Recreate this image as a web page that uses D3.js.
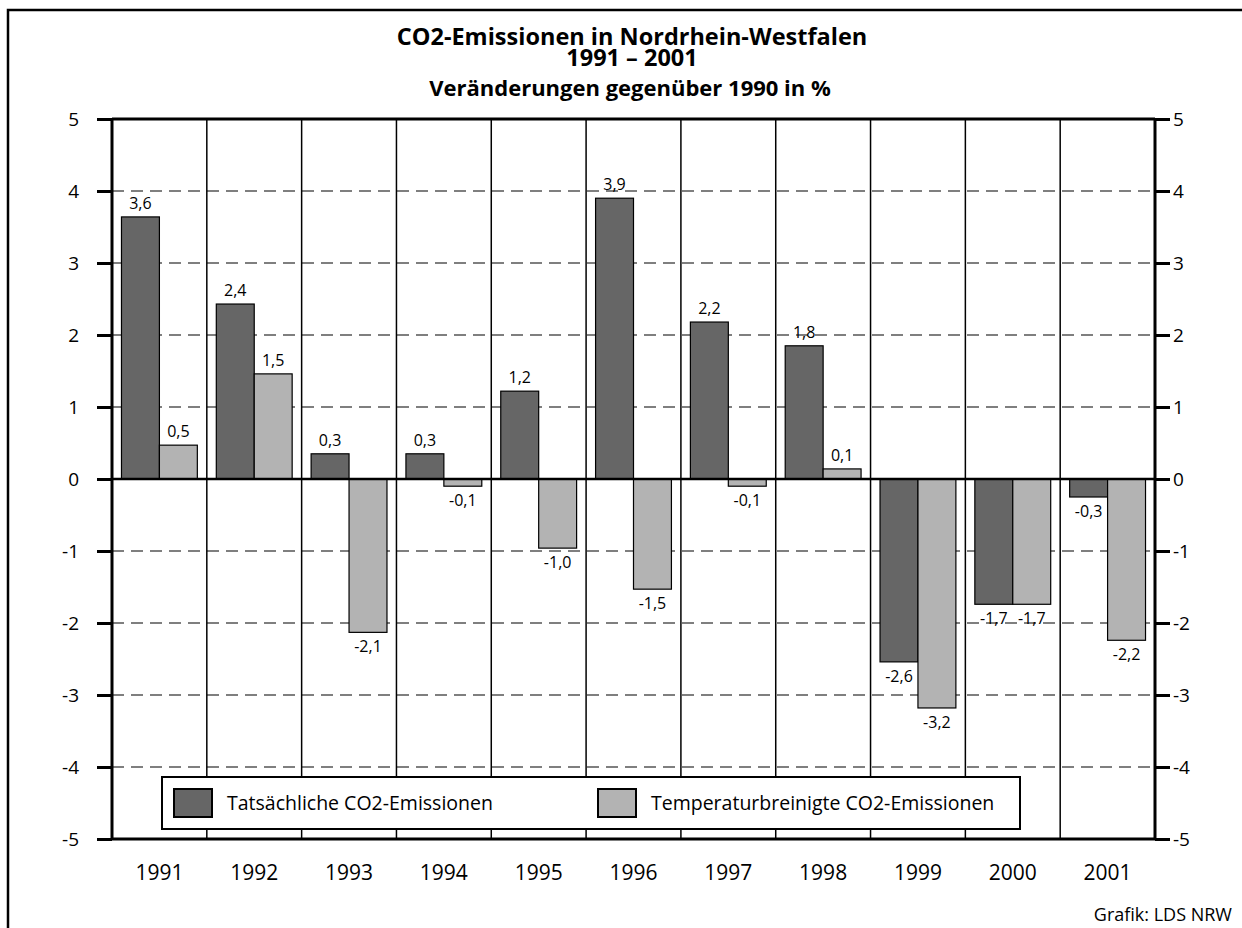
<!DOCTYPE html>
<html>
<head>
<meta charset="utf-8">
<script src="https://cdn.jsdelivr.net/npm/d3@7"></script>
<style>
  html, body { margin: 0; padding: 0; background: #fff; }
  svg { display: block; }
  text { font-family: "Open Sans", "Noto Sans", sans-serif; fill: #000; }
</style>
</head>
<body>
<svg id="chart" width="1242" height="928"></svg>
<script>
// ---- data ----
const years = ["1991","1992","1993","1994","1995","1996","1997","1998","1999","2000","2001"];
const seriesNames = ["Tatsächliche CO2-Emissionen", "Temperaturbreinigte CO2-Emissionen"];
const actual =      [3.64, 2.43, 0.35, 0.35, 1.22, 3.90, 2.18, 1.85, -2.54, -1.74, -0.25];
const adjusted =    [0.47, 1.46, -2.13, -0.10, -0.96, -1.53, -0.10, 0.14, -3.18, -1.74, -2.24];
const actualLabels =   ["3,6","2,4","0,3","0,3","1,2","3,9","2,2","1,8","-2,6","-1,7","-0,3"];
const adjustedLabels = ["0,5","1,5","-2,1","-0,1","-1,0","-1,5","-0,1","0,1","-3,2","-1,7","-2,2"];
const yTicks = [-5,-4,-3,-2,-1,0,1,2,3,4,5];
const titleLines = ["CO2-Emissionen in Nordrhein-Westfalen", "1991 – 2001"];
const subtitle = "Veränderungen gegenüber 1990 in %";
const source = "Grafik: LDS NRW";
const colors = ["#666666", "#b3b3b3"];

(function () {
// ---- layout ----
const svg = d3.select("#chart");
const pL = 112, pR = 1155, pT = 119, pB = 839;

const x = d3.scaleBand().domain(years).range([pL, pR]).padding(0);
const xi = d3.scaleBand().domain([0,1]).range([0, x.bandwidth()]).paddingInner(0).paddingOuter(0.25);
const y = d3.scaleLinear().domain([-5, 5]).range([pB, pT]);

// outer frame
svg.append("rect").attr("x", 8).attr("y", 10).attr("width", 1400).attr("height", 1000)
  .attr("fill", "none").attr("stroke", "#000").attr("stroke-width", 2.5);

// titles (one text element, two lines)
const tt = svg.append("text").attr("text-anchor", "middle")
  .attr("font-size", 23.5).attr("font-weight", "bold");
tt.append("tspan").attr("x", 632).attr("y", 45).text(titleLines[0]);
tt.append("tspan").attr("x", 632).attr("y", 66).text(titleLines[1]);
svg.append("text").attr("x", 630).attr("y", 96).attr("text-anchor", "middle")
  .attr("font-size", 22).attr("font-weight", "bold").text(subtitle);

// dashed horizontal grid
svg.append("g").selectAll("line").data(yTicks.filter(t => t !== 0 && t !== 5 && t !== -5)).join("line")
  .attr("x1", pL).attr("x2", pR)
  .attr("y1", d => y(d)).attr("y2", d => y(d))
  .attr("stroke", "#000").attr("stroke-width", 1.2).attr("stroke-dasharray", "12,7");

// vertical category separators
svg.append("g").selectAll("line").data(years.slice(1)).join("line")
  .attr("x1", d => x(d)).attr("x2", d => x(d))
  .attr("y1", pT).attr("y2", pB)
  .attr("stroke", "#000").attr("stroke-width", 1.5);

// bars
const rows = years.map((yr, i) => [
  {year: yr, s: 0, v: actual[i], label: actualLabels[i]},
  {year: yr, s: 1, v: adjusted[i], label: adjustedLabels[i]}
]).flat();

svg.append("g").selectAll("rect").data(rows).join("rect")
  .attr("x", d => x(d.year) + xi(d.s))
  .attr("width", xi.bandwidth())
  .attr("y", d => y(Math.max(0, d.v)))
  .attr("height", d => Math.abs(y(d.v) - y(0)))
  .attr("fill", d => colors[d.s])
  .attr("stroke", "#000").attr("stroke-width", 1.2);

// data labels
svg.append("g").selectAll("text").data(rows).join("text")
  .attr("x", d => x(d.year) + xi(d.s) + xi.bandwidth() / 2)
  .attr("y", d => d.v >= 0 ? y(d.v) - 8 : y(d.v) + 20)
  .attr("text-anchor", "middle").attr("font-size", 16)
  .text(d => d.label);

// frame lines: top, bottom, zero
[5, -5, 0].forEach(v => {
  svg.append("line").attr("x1", pL).attr("x2", pR)
    .attr("y1", y(v)).attr("y2", y(v))
    .attr("stroke", "#000").attr("stroke-width", v === 0 ? 2.5 : 3);
});

// axes
const fmt = d => String(d);
const axL = svg.append("g").attr("transform", `translate(${pL},0)`)
  .call(d3.axisLeft(y).tickValues(yTicks).tickFormat(fmt).tickSize(15).tickPadding(18));
const axR = svg.append("g").attr("transform", `translate(${pR},0)`)
  .call(d3.axisRight(y).tickValues(yTicks).tickFormat(fmt).tickSize(15).tickPadding(3));
[axL, axR].forEach(ax => {
  ax.select(".domain").attr("stroke", "#000").attr("stroke-width", 3).attr("d", `M0,${pT}V${pB}`);
  ax.selectAll(".tick line").attr("stroke", "#000").attr("stroke-width", 3);
  ax.selectAll(".tick text").attr("font-size", 19)
    .attr("font-family", "'Open Sans', 'Noto Sans', sans-serif").attr("fill", "#000");
});

// category labels
svg.append("g").selectAll("text").data(years).join("text")
  .attr("x", d => x(d) + x.bandwidth() / 2)
  .attr("y", 880)
  .attr("text-anchor", "middle").attr("font-size", 21)
  .text(d => d);

// legend
const lg = svg.append("g");
lg.append("rect").attr("x", 162).attr("y", 777).attr("width", 858).attr("height", 52)
  .attr("fill", "#fff").attr("stroke", "#000").attr("stroke-width", 2);
const legX = [174, 598];
seriesNames.forEach((name, i) => {
  lg.append("rect").attr("x", legX[i]).attr("y", 789).attr("width", 38).attr("height", 28)
    .attr("fill", colors[i]).attr("stroke", "#000").attr("stroke-width", 2);
  lg.append("text").attr("x", legX[i] + 53).attr("y", 810).attr("font-size", 19.5).text(name);
});

// source
svg.append("text").attr("x", 1232).attr("y", 921).attr("text-anchor", "end")
  .attr("font-size", 18).text(source);
})();
</script>
</body>
</html>
